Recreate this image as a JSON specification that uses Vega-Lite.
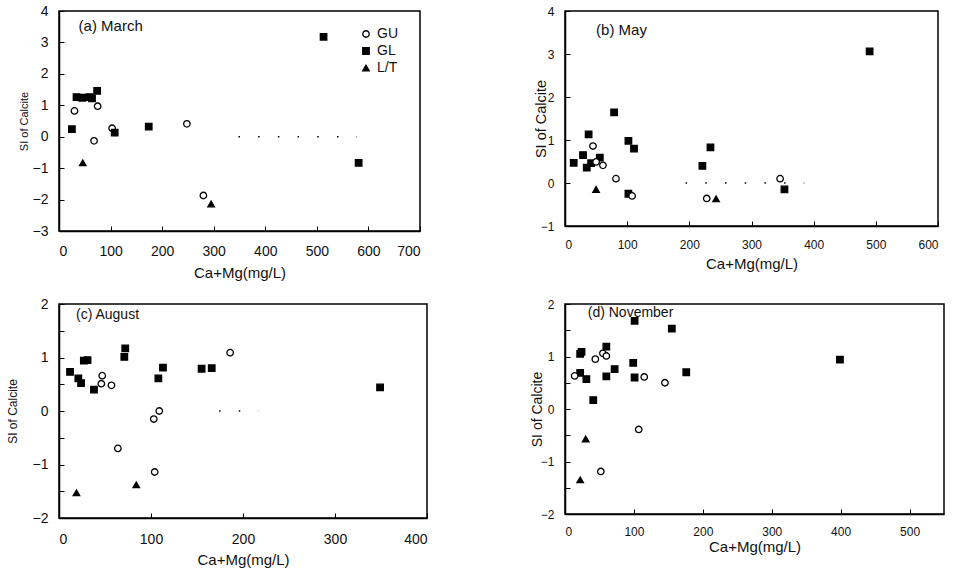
{
  "$schema": "https://vega.github.io/schema/vega-lite/v6.json",
  "background": "white",
  "padding": {"left": 5, "top": 3, "right": 5, "bottom": 5},
  "config": {
    "font": "Liberation Sans",
    "view": {"stroke": "black", "strokeWidth": 1.5},
    "axis": {
      "grid": false, "domainColor": "black", "domainWidth": 1.5, "tickColor": "black",
      "labelColor": "#111", "titleColor": "#111", "labelFontSize": 14, "titleFontSize": 15,
      "titleFontWeight": "normal", "tickSize": -5, "labelOverlap": false
    },
    "axisX": {"labelPadding": 18, "titlePadding": 6},
    "axisY": {"labelPadding": 16, "titlePadding": 7}
  },
  "datasets": {
    "march": [
      {"Ca": 30, "SI": 0.82, "type": "GU"}, {"Ca": 75, "SI": 0.97, "type": "GU"}, {"Ca": 68, "SI": -0.13, "type": "GU"},
      {"Ca": 103, "SI": 0.27, "type": "GU"}, {"Ca": 248, "SI": 0.41, "type": "GU"}, {"Ca": 280, "SI": -1.87, "type": "GU"},
      {"Ca": 25, "SI": 0.24, "type": "GL"}, {"Ca": 34, "SI": 1.26, "type": "GL"}, {"Ca": 45, "SI": 1.24, "type": "GL"},
      {"Ca": 59, "SI": 1.26, "type": "GL"}, {"Ca": 64, "SI": 1.22, "type": "GL"}, {"Ca": 74, "SI": 1.46, "type": "GL"},
      {"Ca": 108, "SI": 0.13, "type": "GL"}, {"Ca": 174, "SI": 0.32, "type": "GL"}, {"Ca": 513, "SI": 3.18, "type": "GL"},
      {"Ca": 581, "SI": -0.83, "type": "GL"},
      {"Ca": 46, "SI": -0.83, "type": "L/T"}, {"Ca": 295, "SI": -2.14, "type": "L/T"}
    ],
    "may": [
      {"Ca": 14, "SI": 0.47, "type": "GL"}, {"Ca": 29, "SI": 0.65, "type": "GL"}, {"Ca": 38, "SI": 1.13, "type": "GL"},
      {"Ca": 35, "SI": 0.36, "type": "GL"}, {"Ca": 42, "SI": 0.46, "type": "GL"}, {"Ca": 56, "SI": 0.59, "type": "GL"},
      {"Ca": 79, "SI": 1.64, "type": "GL"}, {"Ca": 102, "SI": 0.98, "type": "GL"}, {"Ca": 111, "SI": 0.80, "type": "GL"},
      {"Ca": 102, "SI": -0.25, "type": "GL"}, {"Ca": 221, "SI": 0.40, "type": "GL"}, {"Ca": 234, "SI": 0.83, "type": "GL"},
      {"Ca": 353, "SI": -0.15, "type": "GL"}, {"Ca": 490, "SI": 3.06, "type": "GL"},
      {"Ca": 45, "SI": 0.86, "type": "GU"}, {"Ca": 50, "SI": 0.49, "type": "GU"}, {"Ca": 61, "SI": 0.41, "type": "GU"},
      {"Ca": 82, "SI": 0.10, "type": "GU"}, {"Ca": 108, "SI": -0.30, "type": "GU"}, {"Ca": 228, "SI": -0.36, "type": "GU"},
      {"Ca": 346, "SI": 0.10, "type": "GU"},
      {"Ca": 50, "SI": -0.15, "type": "L/T"}, {"Ca": 243, "SI": -0.37, "type": "L/T"}
    ],
    "august": [
      {"Ca": 12, "SI": 0.73, "type": "GL"}, {"Ca": 21, "SI": 0.61, "type": "GL"}, {"Ca": 24, "SI": 0.52, "type": "GL"},
      {"Ca": 27, "SI": 0.94, "type": "GL"}, {"Ca": 31, "SI": 0.95, "type": "GL"}, {"Ca": 38, "SI": 0.40, "type": "GL"},
      {"Ca": 72, "SI": 1.17, "type": "GL"}, {"Ca": 71, "SI": 1.01, "type": "GL"}, {"Ca": 113, "SI": 0.81, "type": "GL"},
      {"Ca": 108, "SI": 0.61, "type": "GL"}, {"Ca": 155, "SI": 0.79, "type": "GL"}, {"Ca": 166, "SI": 0.80, "type": "GL"},
      {"Ca": 349, "SI": 0.44, "type": "GL"},
      {"Ca": 47, "SI": 0.66, "type": "GU"}, {"Ca": 46, "SI": 0.51, "type": "GU"}, {"Ca": 57, "SI": 0.48, "type": "GU"},
      {"Ca": 64, "SI": -0.70, "type": "GU"}, {"Ca": 103, "SI": -0.15, "type": "GU"}, {"Ca": 109, "SI": 0.0, "type": "GU"},
      {"Ca": 104, "SI": -1.14, "type": "GU"}, {"Ca": 186, "SI": 1.09, "type": "GU"},
      {"Ca": 19, "SI": -1.53, "type": "L/T"}, {"Ca": 84, "SI": -1.38, "type": "L/T"}
    ],
    "november": [
      {"Ca": 22, "SI": 0.69, "type": "GL"}, {"Ca": 22, "SI": 1.05, "type": "GL"}, {"Ca": 24, "SI": 1.09, "type": "GL"},
      {"Ca": 31, "SI": 0.57, "type": "GL"}, {"Ca": 41, "SI": 0.17, "type": "GL"}, {"Ca": 60, "SI": 1.19, "type": "GL"},
      {"Ca": 60, "SI": 0.62, "type": "GL"}, {"Ca": 72, "SI": 0.76, "type": "GL"}, {"Ca": 99, "SI": 0.88, "type": "GL"},
      {"Ca": 101, "SI": 1.68, "type": "GL"}, {"Ca": 101, "SI": 0.60, "type": "GL"}, {"Ca": 155, "SI": 1.53, "type": "GL"},
      {"Ca": 176, "SI": 0.70, "type": "GL"}, {"Ca": 399, "SI": 0.94, "type": "GL"},
      {"Ca": 14, "SI": 0.63, "type": "GU"}, {"Ca": 44, "SI": 0.95, "type": "GU"}, {"Ca": 55, "SI": 1.06, "type": "GU"},
      {"Ca": 60, "SI": 1.01, "type": "GU"}, {"Ca": 115, "SI": 0.61, "type": "GU"}, {"Ca": 145, "SI": 0.50, "type": "GU"},
      {"Ca": 107, "SI": -0.39, "type": "GU"}, {"Ca": 52, "SI": -1.19, "type": "GU"},
      {"Ca": 30, "SI": -0.57, "type": "L/T"}, {"Ca": 22, "SI": -1.35, "type": "L/T"}
    ],
    "zero_a": [{"Ca": 348, "Ca2": 578, "SI": 0}],
    "zero_b": [{"Ca": 194, "Ca2": 385, "SI": 0}],
    "zero_c": [{"Ca": 174, "Ca2": 217, "SI": 0}]
  },
  "columns": 2,
  "bounds": "flush",
  "spacing": {"column": 138, "row": 73},
  "concat": [
    {
      "width": 361, "height": 220,
      "layer": [
        {"data": {"name": "zero_a"}, "mark": {"type": "rule", "color": "black", "strokeDash": [1.5, 18.2], "strokeWidth": 1.5},
         "encoding": {
           "x": {"field": "Ca", "type": "quantitative", "title": "Ca+Mg(mg/L)",
                 "scale": {"domain": [0, 700], "nice": false}, "axis": {"values": [0, 100, 200, 300, 400, 500, 600, 700], "titlePadding": 7}},
           "x2": {"field": "Ca2"},
           "y": {"field": "SI", "type": "quantitative", "title": "SI of Calcite",
                 "scale": {"domain": [-3, 4], "nice": false}, "axis": {"values": [-3, -2, -1, 0, 1, 2, 3, 4], "titleFontSize": 11, "titlePadding": 3}}
         }},
        {"data": {"values": [{"label": "(a) March"}]},
         "mark": {"type": "text", "font": "Liberation Sans", "fontSize": 15, "color": "#111", "align": "left", "baseline": "middle"},
         "encoding": {
           "x": {"datum": 38, "type": "quantitative", "title": "Ca+Mg(mg/L)",
                 "scale": {"domain": [0, 700], "nice": false}, "axis": {"values": [0, 100, 200, 300, 400, 500, 600, 700], "titlePadding": 7}},
           "y": {"datum": 3.52, "type": "quantitative", "title": "SI of Calcite",
                 "scale": {"domain": [-3, 4], "nice": false}, "axis": {"values": [-3, -2, -1, 0, 1, 2, 3, 4], "titleFontSize": 11, "titlePadding": 3}},
           "text": {"field": "label", "type": "nominal"}}},
        {"data": {"name": "march"}, "mark": {"type": "point", "filled": true, "stroke": "black", "strokeWidth": 1.3, "opacity": 1, "size": 42},
         "encoding": {
           "x": {"field": "Ca", "type": "quantitative", "title": "Ca+Mg(mg/L)",
                 "scale": {"domain": [0, 700], "nice": false}, "axis": {"values": [0, 100, 200, 300, 400, 500, 600, 700], "titlePadding": 7}},
           "y": {"field": "SI", "type": "quantitative", "title": "SI of Calcite",
                 "scale": {"domain": [-3, 4], "nice": false}, "axis": {"values": [-3, -2, -1, 0, 1, 2, 3, 4], "titleFontSize": 11, "titlePadding": 3}},
           "shape": {"field": "type", "type": "nominal", "scale": {"domain": ["GU", "GL", "L/T"], "range": ["circle", "square", "triangle-up"]},
                     "legend": {"orient": "none", "legendX": 300, "legendY": 16, "title": null, "labelFontSize": 14, "symbolSize": 42, "rowPadding": 3, "symbolStrokeWidth": 1.3, "labelColor": "#111"}},
           "fill": {"field": "type", "type": "nominal", "scale": {"domain": ["GU", "GL", "L/T"], "range": ["white", "black", "black"]},
                    "legend": {"orient": "none", "legendX": 300, "legendY": 16, "title": null, "labelFontSize": 14, "symbolSize": 42, "rowPadding": 3, "symbolStrokeWidth": 1.3, "labelColor": "#111"}}
         }}
      ]
    },
    {
      "width": 373, "height": 215,
      "layer": [
        {"data": {"name": "zero_b"}, "mark": {"type": "rule", "color": "black", "strokeDash": [1.5, 18.2], "strokeWidth": 1.5},
         "encoding": {
           "x": {"field": "Ca", "type": "quantitative", "title": "Ca+Mg(mg/L)",
                 "scale": {"domain": [0, 600], "nice": false}, "axis": {"values": [0, 100, 200, 300, 400, 500, 600], "labelFontSize": 12}},
           "x2": {"field": "Ca2"},
           "y": {"field": "SI", "type": "quantitative", "title": "SI of Calcite",
                 "scale": {"domain": [-1, 4], "nice": false}, "axis": {"values": [-1, 0, 1, 2, 3, 4], "labelFontSize": 12, "titleFontSize": 14.5, "titlePadding": -8}}
         }},
        {"data": {"values": [{"label": "(b) May"}]},
         "mark": {"type": "text", "font": "Liberation Sans", "fontSize": 15, "color": "#111", "align": "left", "baseline": "middle"},
         "encoding": {
           "x": {"datum": 50, "type": "quantitative", "title": "Ca+Mg(mg/L)",
                 "scale": {"domain": [0, 600], "nice": false}, "axis": {"values": [0, 100, 200, 300, 400, 500, 600], "labelFontSize": 12}},
           "y": {"datum": 3.55, "type": "quantitative", "title": "SI of Calcite",
                 "scale": {"domain": [-1, 4], "nice": false}, "axis": {"values": [-1, 0, 1, 2, 3, 4], "labelFontSize": 12, "titleFontSize": 14.5, "titlePadding": -8}},
           "text": {"field": "label", "type": "nominal"}}},
        {"data": {"name": "may"}, "mark": {"type": "point", "filled": true, "stroke": "black", "strokeWidth": 1.3, "opacity": 1, "size": 42},
         "encoding": {
           "x": {"field": "Ca", "type": "quantitative", "title": "Ca+Mg(mg/L)",
                 "scale": {"domain": [0, 600], "nice": false}, "axis": {"values": [0, 100, 200, 300, 400, 500, 600], "labelFontSize": 12}},
           "y": {"field": "SI", "type": "quantitative", "title": "SI of Calcite",
                 "scale": {"domain": [-1, 4], "nice": false}, "axis": {"values": [-1, 0, 1, 2, 3, 4], "labelFontSize": 12, "titleFontSize": 14.5, "titlePadding": -8}},
           "shape": {"field": "type", "type": "nominal", "scale": {"domain": ["GU", "GL", "L/T"], "range": ["circle", "square", "triangle-up"]}, "legend": null},
           "fill": {"field": "type", "type": "nominal", "scale": {"domain": ["GU", "GL", "L/T"], "range": ["white", "black", "black"]}, "legend": null}
         }}
      ]
    },
    {
      "width": 368, "height": 214,
      "layer": [
        {"data": {"name": "zero_c"}, "mark": {"type": "rule", "color": "black", "strokeDash": [1.5, 18.2], "strokeWidth": 1.5},
         "encoding": {
           "x": {"field": "Ca", "type": "quantitative", "title": "Ca+Mg(mg/L)",
                 "scale": {"domain": [0, 400], "nice": false}, "axis": {"values": [0, 100, 200, 300, 400], "labelPadding": 19}},
           "x2": {"field": "Ca2"},
           "y": {"field": "SI", "type": "quantitative", "title": "SI of Calcite",
                 "scale": {"domain": [-2, 2], "nice": false},
                 "axis": {"values": [-2, -1.5, -1, -0.5, 0, 0.5, 1, 1.5, 2], "labelExpr": "datum.value % 1 === 0 ? format(datum.value, 'd') : ''", "titleFontSize": 12, "titlePadding": 13}}
         }},
        {"data": {"values": [{"label": "(c) August"}]},
         "mark": {"type": "text", "font": "Liberation Sans", "fontSize": 14, "color": "#111", "align": "left", "baseline": "middle"},
         "encoding": {
           "x": {"datum": 18.5, "type": "quantitative", "title": "Ca+Mg(mg/L)",
                 "scale": {"domain": [0, 400], "nice": false}, "axis": {"values": [0, 100, 200, 300, 400], "labelPadding": 19}},
           "y": {"datum": 1.79, "type": "quantitative", "title": "SI of Calcite",
                 "scale": {"domain": [-2, 2], "nice": false},
                 "axis": {"values": [-2, -1.5, -1, -0.5, 0, 0.5, 1, 1.5, 2], "labelExpr": "datum.value % 1 === 0 ? format(datum.value, 'd') : ''", "titleFontSize": 12, "titlePadding": 13}},
           "text": {"field": "label", "type": "nominal"}}},
        {"data": {"name": "august"}, "mark": {"type": "point", "filled": true, "stroke": "black", "strokeWidth": 1.3, "opacity": 1, "size": 42},
         "encoding": {
           "x": {"field": "Ca", "type": "quantitative", "title": "Ca+Mg(mg/L)",
                 "scale": {"domain": [0, 400], "nice": false}, "axis": {"values": [0, 100, 200, 300, 400], "labelPadding": 19}},
           "y": {"field": "SI", "type": "quantitative", "title": "SI of Calcite",
                 "scale": {"domain": [-2, 2], "nice": false},
                 "axis": {"values": [-2, -1.5, -1, -0.5, 0, 0.5, 1, 1.5, 2], "labelExpr": "datum.value % 1 === 0 ? format(datum.value, 'd') : ''", "titleFontSize": 12, "titlePadding": 13}},
           "shape": {"field": "type", "type": "nominal", "scale": {"domain": ["GU", "GL", "L/T"], "range": ["circle", "square", "triangle-up"]}, "legend": null},
           "fill": {"field": "type", "type": "nominal", "scale": {"domain": ["GU", "GL", "L/T"], "range": ["white", "black", "black"]}, "legend": null}
         }}
      ]
    },
    {
      "width": 379, "height": 210,
      "layer": [
        {"data": {"values": [{"label": "(d) November"}]},
         "mark": {"type": "text", "font": "Liberation Sans", "fontSize": 14, "color": "#111", "align": "left", "baseline": "middle"},
         "encoding": {
           "x": {"datum": 33, "type": "quantitative", "title": "Ca+Mg(mg/L)",
                 "scale": {"domain": [0, 550], "nice": false}, "axis": {"values": [0, 100, 200, 300, 400, 500], "labelPadding": 17, "titlePadding": 2, "labelFontSize": 12}},
           "y": {"datum": 1.83, "type": "quantitative", "title": "SI of Calcite",
                 "scale": {"domain": [-2, 2], "nice": false},
                 "axis": {"values": [-2, -1.5, -1, -0.5, 0, 0.5, 1, 1.5, 2], "labelExpr": "datum.value % 1 === 0 ? format(datum.value, 'd') : ''", "labelFontSize": 12, "titleFontSize": 14, "titlePadding": -4}},
           "text": {"field": "label", "type": "nominal"}}},
        {"data": {"name": "november"}, "mark": {"type": "point", "filled": true, "stroke": "black", "strokeWidth": 1.3, "opacity": 1, "size": 42},
         "encoding": {
           "x": {"field": "Ca", "type": "quantitative", "title": "Ca+Mg(mg/L)",
                 "scale": {"domain": [0, 550], "nice": false}, "axis": {"values": [0, 100, 200, 300, 400, 500], "labelPadding": 17, "titlePadding": 2, "labelFontSize": 12}},
           "y": {"field": "SI", "type": "quantitative", "title": "SI of Calcite",
                 "scale": {"domain": [-2, 2], "nice": false},
                 "axis": {"values": [-2, -1.5, -1, -0.5, 0, 0.5, 1, 1.5, 2], "labelExpr": "datum.value % 1 === 0 ? format(datum.value, 'd') : ''", "labelFontSize": 12, "titleFontSize": 14, "titlePadding": -4}},
           "shape": {"field": "type", "type": "nominal", "scale": {"domain": ["GU", "GL", "L/T"], "range": ["circle", "square", "triangle-up"]}, "legend": null},
           "fill": {"field": "type", "type": "nominal", "scale": {"domain": ["GU", "GL", "L/T"], "range": ["white", "black", "black"]}, "legend": null}
         }}
      ]
    }
  ]
}
